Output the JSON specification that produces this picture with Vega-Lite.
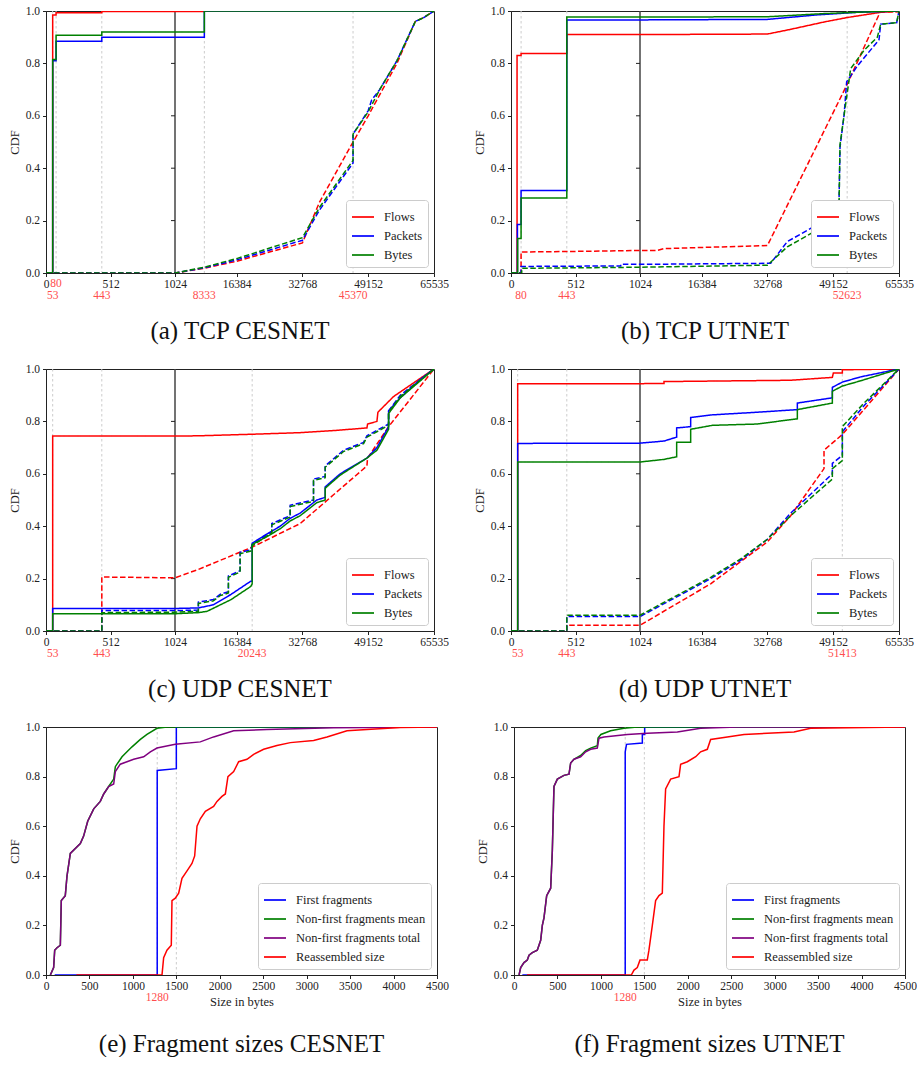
{
"$schema":"https://vega.github.io/schema/vega-lite/v6.json",
"background":"white",
"padding":{"left":7,"top":4,"right":0,"bottom":0},
"config":{
 "font":"Liberation Serif",
 "view":{"stroke":"#222","strokeWidth":1},
 "axis":{"grid":false,"domainColor":"#222","tickColor":"#222","labelColor":"#222","titleColor":"#222","labelFont":"Liberation Serif","titleFont":"Liberation Serif","labelFontSize":11.5,"titleFontSize":12.5,"titleFontWeight":"normal","tickSize":3.5,"domainWidth":1,"tickWidth":1},
 "axisX":{"labelPadding":2,"titlePadding":3},
 "axisY":{"labelPadding":3,"titlePadding":4},
 "legend":{"orient":"bottom-right","offset":6,"padding":5,"strokeColor":"#cccccc","fillColor":"#ffffff","cornerRadius":3,"symbolType":"stroke","symbolSize":484,"symbolStrokeWidth":1.7,"labelFont":"Liberation Serif","labelFontSize":12.5,"labelColor":"#222","labelOffset":9,"rowPadding":-4},
 "title":{"font":"Liberation Serif","fontSize":25,"fontWeight":"normal","color":"#111","orient":"bottom","anchor":"middle"}
},
"datasets":{
"A":[
{"m":"Flows","t":"s","x":0,"y":0},{"m":"Flows","t":"s","x":53,"y":0},{"m":"Flows","t":"s","x":53,"y":0.985},{"m":"Flows","t":"s","x":80,"y":0.985},{"m":"Flows","t":"s","x":80,"y":0.993},{"m":"Flows","t":"s","x":443,"y":0.993},{"m":"Flows","t":"s","x":443,"y":0.998},{"m":"Flows","t":"s","x":8333,"y":0.998},{"m":"Flows","t":"s","x":8333,"y":1},{"m":"Flows","t":"s","x":65535,"y":1},
{"m":"Flows","t":"d","x":0,"y":0},{"m":"Flows","t":"d","x":1024,"y":0},{"m":"Flows","t":"d","x":8333,"y":0.018},{"m":"Flows","t":"d","x":16384,"y":0.045},{"m":"Flows","t":"d","x":32768,"y":0.115},{"m":"Flows","t":"d","x":37000,"y":0.27},{"m":"Flows","t":"d","x":45370,"y":0.5},{"m":"Flows","t":"d","x":49152,"y":0.6},{"m":"Flows","t":"d","x":52000,"y":0.68},{"m":"Flows","t":"d","x":56300,"y":0.8},{"m":"Flows","t":"d","x":60879,"y":0.96},{"m":"Flows","t":"d","x":63000,"y":0.975},{"m":"Flows","t":"d","x":65535,"y":1},
{"m":"Packets","t":"s","x":0,"y":0},{"m":"Packets","t":"s","x":53,"y":0},{"m":"Packets","t":"s","x":53,"y":0.81},{"m":"Packets","t":"s","x":80,"y":0.81},{"m":"Packets","t":"s","x":80,"y":0.885},{"m":"Packets","t":"s","x":443,"y":0.885},{"m":"Packets","t":"s","x":443,"y":0.9},{"m":"Packets","t":"s","x":8333,"y":0.9},{"m":"Packets","t":"s","x":8333,"y":1},{"m":"Packets","t":"s","x":65535,"y":1},
{"m":"Packets","t":"d","x":0,"y":0},{"m":"Packets","t":"d","x":1024,"y":0},{"m":"Packets","t":"d","x":8333,"y":0.02},{"m":"Packets","t":"d","x":16384,"y":0.05},{"m":"Packets","t":"d","x":32768,"y":0.125},{"m":"Packets","t":"d","x":37000,"y":0.24},{"m":"Packets","t":"d","x":45370,"y":0.42},{"m":"Packets","t":"d","x":45370,"y":0.53},{"m":"Packets","t":"d","x":49152,"y":0.62},{"m":"Packets","t":"d","x":50000,"y":0.66},{"m":"Packets","t":"d","x":52000,"y":0.7},{"m":"Packets","t":"d","x":56300,"y":0.81},{"m":"Packets","t":"d","x":60879,"y":0.96},{"m":"Packets","t":"d","x":63000,"y":0.975},{"m":"Packets","t":"d","x":65535,"y":1},
{"m":"Bytes","t":"s","x":0,"y":0},{"m":"Bytes","t":"s","x":53,"y":0},{"m":"Bytes","t":"s","x":53,"y":0.815},{"m":"Bytes","t":"s","x":80,"y":0.815},{"m":"Bytes","t":"s","x":80,"y":0.907},{"m":"Bytes","t":"s","x":443,"y":0.907},{"m":"Bytes","t":"s","x":443,"y":0.92},{"m":"Bytes","t":"s","x":8333,"y":0.92},{"m":"Bytes","t":"s","x":8333,"y":1},{"m":"Bytes","t":"s","x":65535,"y":1},
{"m":"Bytes","t":"d","x":0,"y":0},{"m":"Bytes","t":"d","x":1024,"y":0},{"m":"Bytes","t":"d","x":8333,"y":0.022},{"m":"Bytes","t":"d","x":16384,"y":0.055},{"m":"Bytes","t":"d","x":32768,"y":0.135},{"m":"Bytes","t":"d","x":37000,"y":0.25},{"m":"Bytes","t":"d","x":45370,"y":0.43},{"m":"Bytes","t":"d","x":45370,"y":0.53},{"m":"Bytes","t":"d","x":49152,"y":0.615},{"m":"Bytes","t":"d","x":52000,"y":0.7},{"m":"Bytes","t":"d","x":56300,"y":0.81},{"m":"Bytes","t":"d","x":60879,"y":0.96},{"m":"Bytes","t":"d","x":63000,"y":0.975},{"m":"Bytes","t":"d","x":65535,"y":1}
],
"B":[
{"m":"Flows","t":"s","x":0,"y":0},{"m":"Flows","t":"s","x":48,"y":0},{"m":"Flows","t":"s","x":48,"y":0.83},{"m":"Flows","t":"s","x":80,"y":0.83},{"m":"Flows","t":"s","x":80,"y":0.838},{"m":"Flows","t":"s","x":443,"y":0.838},{"m":"Flows","t":"s","x":443,"y":0.91},{"m":"Flows","t":"s","x":1024,"y":0.91},{"m":"Flows","t":"s","x":32768,"y":0.912},{"m":"Flows","t":"s","x":38553,"y":0.93},{"m":"Flows","t":"s","x":46855,"y":0.958},{"m":"Flows","t":"s","x":52623,"y":0.975},{"m":"Flows","t":"s","x":60970,"y":0.995},{"m":"Flows","t":"s","x":65535,"y":1},
{"m":"Flows","t":"d","x":0,"y":0},{"m":"Flows","t":"d","x":80,"y":0},{"m":"Flows","t":"d","x":80,"y":0.08},{"m":"Flows","t":"d","x":443,"y":0.082},{"m":"Flows","t":"d","x":1024,"y":0.086},{"m":"Flows","t":"d","x":5342,"y":0.086},{"m":"Flows","t":"d","x":7002,"y":0.093},{"m":"Flows","t":"d","x":32768,"y":0.105},{"m":"Flows","t":"d","x":52623,"y":0.72},{"m":"Flows","t":"d","x":60806,"y":0.995},{"m":"Flows","t":"d","x":65535,"y":0.997},
{"m":"Packets","t":"s","x":0,"y":0},{"m":"Packets","t":"s","x":51,"y":0},{"m":"Packets","t":"s","x":51,"y":0.185},{"m":"Packets","t":"s","x":80,"y":0.185},{"m":"Packets","t":"s","x":80,"y":0.315},{"m":"Packets","t":"s","x":443,"y":0.315},{"m":"Packets","t":"s","x":443,"y":0.966},{"m":"Packets","t":"s","x":1024,"y":0.966},{"m":"Packets","t":"s","x":32768,"y":0.968},{"m":"Packets","t":"s","x":45000,"y":0.985},{"m":"Packets","t":"s","x":55160,"y":0.995},{"m":"Packets","t":"s","x":65535,"y":1},
{"m":"Packets","t":"d","x":0,"y":0},{"m":"Packets","t":"d","x":80,"y":0},{"m":"Packets","t":"d","x":80,"y":0.025},{"m":"Packets","t":"d","x":871,"y":0.027},{"m":"Packets","t":"d","x":871,"y":0.033},{"m":"Packets","t":"d","x":1024,"y":0.033},{"m":"Packets","t":"d","x":33573,"y":0.037},{"m":"Packets","t":"d","x":37724,"y":0.12},{"m":"Packets","t":"d","x":43535,"y":0.17},{"m":"Packets","t":"d","x":49347,"y":0.22},{"m":"Packets","t":"d","x":50593,"y":0.27},{"m":"Packets","t":"d","x":50842,"y":0.48},{"m":"Packets","t":"d","x":51838,"y":0.6},{"m":"Packets","t":"d","x":52503,"y":0.73},{"m":"Packets","t":"d","x":55160,"y":0.79},{"m":"Packets","t":"d","x":60556,"y":0.89},{"m":"Packets","t":"d","x":60972,"y":0.95},{"m":"Packets","t":"d","x":64957,"y":0.955},{"m":"Packets","t":"d","x":65535,"y":1},
{"m":"Bytes","t":"s","x":0,"y":0},{"m":"Bytes","t":"s","x":53,"y":0},{"m":"Bytes","t":"s","x":53,"y":0.132},{"m":"Bytes","t":"s","x":80,"y":0.132},{"m":"Bytes","t":"s","x":80,"y":0.286},{"m":"Bytes","t":"s","x":443,"y":0.286},{"m":"Bytes","t":"s","x":443,"y":0.977},{"m":"Bytes","t":"s","x":1024,"y":0.977},{"m":"Bytes","t":"s","x":32768,"y":0.978},{"m":"Bytes","t":"s","x":46855,"y":0.99},{"m":"Bytes","t":"s","x":60000,"y":0.998},{"m":"Bytes","t":"s","x":65535,"y":1},
{"m":"Bytes","t":"d","x":0,"y":0},{"m":"Bytes","t":"d","x":85,"y":0},{"m":"Bytes","t":"d","x":85,"y":0.018},{"m":"Bytes","t":"d","x":1024,"y":0.022},{"m":"Bytes","t":"d","x":32768,"y":0.03},{"m":"Bytes","t":"d","x":37724,"y":0.1},{"m":"Bytes","t":"d","x":43535,"y":0.15},{"m":"Bytes","t":"d","x":49347,"y":0.2},{"m":"Bytes","t":"d","x":50593,"y":0.25},{"m":"Bytes","t":"d","x":50842,"y":0.49},{"m":"Bytes","t":"d","x":51838,"y":0.6},{"m":"Bytes","t":"d","x":53499,"y":0.78},{"m":"Bytes","t":"d","x":56820,"y":0.85},{"m":"Bytes","t":"d","x":60141,"y":0.9},{"m":"Bytes","t":"d","x":60972,"y":0.95},{"m":"Bytes","t":"d","x":64957,"y":0.955},{"m":"Bytes","t":"d","x":65535,"y":1}
],
"C":[
{"m":"Flows","t":"s","x":0,"y":0},{"m":"Flows","t":"s","x":53,"y":0},{"m":"Flows","t":"s","x":53,"y":0.744},{"m":"Flows","t":"s","x":1024,"y":0.744},{"m":"Flows","t":"s","x":6843,"y":0.745},{"m":"Flows","t":"s","x":20243,"y":0.751},{"m":"Flows","t":"s","x":32198,"y":0.757},{"m":"Flows","t":"s","x":40511,"y":0.765},{"m":"Flows","t":"s","x":48824,"y":0.775},{"m":"Flows","t":"s","x":48990,"y":0.79},{"m":"Flows","t":"s","x":51318,"y":0.8},{"m":"Flows","t":"s","x":51567,"y":0.835},{"m":"Flows","t":"s","x":55474,"y":0.895},{"m":"Flows","t":"s","x":65535,"y":1},
{"m":"Flows","t":"d","x":0,"y":0},{"m":"Flows","t":"d","x":443,"y":0},{"m":"Flows","t":"d","x":443,"y":0.206},{"m":"Flows","t":"d","x":1024,"y":0.203},{"m":"Flows","t":"d","x":6843,"y":0.235},{"m":"Flows","t":"d","x":20243,"y":0.32},{"m":"Flows","t":"d","x":32198,"y":0.41},{"m":"Flows","t":"d","x":40511,"y":0.52},{"m":"Flows","t":"d","x":48824,"y":0.63},{"m":"Flows","t":"d","x":48990,"y":0.66},{"m":"Flows","t":"d","x":54226,"y":0.78},{"m":"Flows","t":"d","x":65535,"y":1},
{"m":"Packets","t":"s","x":0,"y":0},{"m":"Packets","t":"s","x":53,"y":0},{"m":"Packets","t":"s","x":53,"y":0.086},{"m":"Packets","t":"s","x":1024,"y":0.086},{"m":"Packets","t":"s","x":6843,"y":0.088},{"m":"Packets","t":"s","x":10584,"y":0.1},{"m":"Packets","t":"s","x":15000,"y":0.14},{"m":"Packets","t":"s","x":19895,"y":0.19},{"m":"Packets","t":"s","x":20243,"y":0.19},{"m":"Packets","t":"s","x":20243,"y":0.335},{"m":"Packets","t":"s","x":23885,"y":0.37},{"m":"Packets","t":"s","x":27210,"y":0.4},{"m":"Packets","t":"s","x":29704,"y":0.43},{"m":"Packets","t":"s","x":32198,"y":0.45},{"m":"Packets","t":"s","x":36354,"y":0.5},{"m":"Packets","t":"s","x":38432,"y":0.51},{"m":"Packets","t":"s","x":38432,"y":0.55},{"m":"Packets","t":"s","x":42173,"y":0.6},{"m":"Packets","t":"s","x":48824,"y":0.66},{"m":"Packets","t":"s","x":51318,"y":0.7},{"m":"Packets","t":"s","x":54226,"y":0.78},{"m":"Packets","t":"s","x":54226,"y":0.84},{"m":"Packets","t":"s","x":57136,"y":0.89},{"m":"Packets","t":"s","x":62124,"y":0.96},{"m":"Packets","t":"s","x":65535,"y":1},
{"m":"Packets","t":"d","x":0,"y":0},{"m":"Packets","t":"d","x":443,"y":0},{"m":"Packets","t":"d","x":443,"y":0.078},{"m":"Packets","t":"d","x":1024,"y":0.078},{"m":"Packets","t":"d","x":6843,"y":0.08},{"m":"Packets","t":"d","x":6843,"y":0.11},{"m":"Packets","t":"d","x":10584,"y":0.12},{"m":"Packets","t":"d","x":12247,"y":0.14},{"m":"Packets","t":"d","x":14325,"y":0.15},{"m":"Packets","t":"d","x":14325,"y":0.21},{"m":"Packets","t":"d","x":17235,"y":0.23},{"m":"Packets","t":"d","x":17235,"y":0.3},{"m":"Packets","t":"d","x":19895,"y":0.31},{"m":"Packets","t":"d","x":20243,"y":0.33},{"m":"Packets","t":"d","x":25132,"y":0.38},{"m":"Packets","t":"d","x":25132,"y":0.41},{"m":"Packets","t":"d","x":29704,"y":0.44},{"m":"Packets","t":"d","x":29704,"y":0.48},{"m":"Packets","t":"d","x":35523,"y":0.5},{"m":"Packets","t":"d","x":35523,"y":0.58},{"m":"Packets","t":"d","x":38432,"y":0.59},{"m":"Packets","t":"d","x":38432,"y":0.63},{"m":"Packets","t":"d","x":43004,"y":0.69},{"m":"Packets","t":"d","x":47992,"y":0.72},{"m":"Packets","t":"d","x":48824,"y":0.745},{"m":"Packets","t":"d","x":54226,"y":0.79},{"m":"Packets","t":"d","x":54226,"y":0.84},{"m":"Packets","t":"d","x":57136,"y":0.9},{"m":"Packets","t":"d","x":65535,"y":1},
{"m":"Bytes","t":"s","x":0,"y":0},{"m":"Bytes","t":"s","x":53,"y":0},{"m":"Bytes","t":"s","x":53,"y":0.066},{"m":"Bytes","t":"s","x":1024,"y":0.066},{"m":"Bytes","t":"s","x":6843,"y":0.07},{"m":"Bytes","t":"s","x":9000,"y":0.075},{"m":"Bytes","t":"s","x":15000,"y":0.12},{"m":"Bytes","t":"s","x":19895,"y":0.17},{"m":"Bytes","t":"s","x":20243,"y":0.18},{"m":"Bytes","t":"s","x":20243,"y":0.33},{"m":"Bytes","t":"s","x":23885,"y":0.36},{"m":"Bytes","t":"s","x":27210,"y":0.39},{"m":"Bytes","t":"s","x":29704,"y":0.42},{"m":"Bytes","t":"s","x":32198,"y":0.44},{"m":"Bytes","t":"s","x":36354,"y":0.49},{"m":"Bytes","t":"s","x":38432,"y":0.5},{"m":"Bytes","t":"s","x":38432,"y":0.545},{"m":"Bytes","t":"s","x":42173,"y":0.595},{"m":"Bytes","t":"s","x":48824,"y":0.66},{"m":"Bytes","t":"s","x":51318,"y":0.69},{"m":"Bytes","t":"s","x":54226,"y":0.77},{"m":"Bytes","t":"s","x":54226,"y":0.83},{"m":"Bytes","t":"s","x":57136,"y":0.89},{"m":"Bytes","t":"s","x":62124,"y":0.955},{"m":"Bytes","t":"s","x":65535,"y":1},
{"m":"Bytes","t":"d","x":0,"y":0},{"m":"Bytes","t":"d","x":443,"y":0},{"m":"Bytes","t":"d","x":443,"y":0.07},{"m":"Bytes","t":"d","x":1024,"y":0.072},{"m":"Bytes","t":"d","x":6843,"y":0.075},{"m":"Bytes","t":"d","x":6843,"y":0.105},{"m":"Bytes","t":"d","x":10584,"y":0.115},{"m":"Bytes","t":"d","x":12247,"y":0.135},{"m":"Bytes","t":"d","x":14325,"y":0.145},{"m":"Bytes","t":"d","x":14325,"y":0.205},{"m":"Bytes","t":"d","x":17235,"y":0.225},{"m":"Bytes","t":"d","x":17235,"y":0.295},{"m":"Bytes","t":"d","x":19895,"y":0.305},{"m":"Bytes","t":"d","x":20243,"y":0.325},{"m":"Bytes","t":"d","x":25132,"y":0.375},{"m":"Bytes","t":"d","x":25132,"y":0.405},{"m":"Bytes","t":"d","x":29704,"y":0.435},{"m":"Bytes","t":"d","x":29704,"y":0.475},{"m":"Bytes","t":"d","x":35523,"y":0.495},{"m":"Bytes","t":"d","x":35523,"y":0.575},{"m":"Bytes","t":"d","x":38432,"y":0.585},{"m":"Bytes","t":"d","x":38432,"y":0.625},{"m":"Bytes","t":"d","x":43004,"y":0.685},{"m":"Bytes","t":"d","x":47992,"y":0.715},{"m":"Bytes","t":"d","x":48824,"y":0.74},{"m":"Bytes","t":"d","x":54226,"y":0.785},{"m":"Bytes","t":"d","x":54226,"y":0.835},{"m":"Bytes","t":"d","x":57136,"y":0.895},{"m":"Bytes","t":"d","x":65535,"y":1}
],
"D":[
{"m":"Flows","t":"s","x":0,"y":0},{"m":"Flows","t":"s","x":53,"y":0},{"m":"Flows","t":"s","x":53,"y":0.944},{"m":"Flows","t":"s","x":1024,"y":0.944},{"m":"Flows","t":"s","x":7002,"y":0.945},{"m":"Flows","t":"s","x":7002,"y":0.952},{"m":"Flows","t":"s","x":38554,"y":0.957},{"m":"Flows","t":"s","x":48933,"y":0.968},{"m":"Flows","t":"s","x":49182,"y":0.985},{"m":"Flows","t":"s","x":51424,"y":0.985},{"m":"Flows","t":"s","x":51424,"y":0.997},{"m":"Flows","t":"s","x":65535,"y":1},
{"m":"Flows","t":"d","x":0,"y":0},{"m":"Flows","t":"d","x":443,"y":0},{"m":"Flows","t":"d","x":443,"y":0.022},{"m":"Flows","t":"d","x":1024,"y":0.022},{"m":"Flows","t":"d","x":18626,"y":0.18},{"m":"Flows","t":"d","x":32742,"y":0.34},{"m":"Flows","t":"d","x":38554,"y":0.44},{"m":"Flows","t":"d","x":46857,"y":0.62},{"m":"Flows","t":"d","x":46857,"y":0.69},{"m":"Flows","t":"d","x":51424,"y":0.75},{"m":"Flows","t":"d","x":65535,"y":1},
{"m":"Packets","t":"s","x":0,"y":0},{"m":"Packets","t":"s","x":53,"y":0},{"m":"Packets","t":"s","x":53,"y":0.716},{"m":"Packets","t":"s","x":1024,"y":0.717},{"m":"Packets","t":"s","x":7002,"y":0.725},{"m":"Packets","t":"s","x":10157,"y":0.74},{"m":"Packets","t":"s","x":10157,"y":0.775},{"m":"Packets","t":"s","x":13645,"y":0.78},{"m":"Packets","t":"s","x":13645,"y":0.815},{"m":"Packets","t":"s","x":19042,"y":0.825},{"m":"Packets","t":"s","x":30251,"y":0.835},{"m":"Packets","t":"s","x":40214,"y":0.845},{"m":"Packets","t":"s","x":40214,"y":0.87},{"m":"Packets","t":"s","x":48933,"y":0.89},{"m":"Packets","t":"s","x":48933,"y":0.93},{"m":"Packets","t":"s","x":51424,"y":0.95},{"m":"Packets","t":"s","x":55990,"y":0.97},{"m":"Packets","t":"s","x":65535,"y":1},
{"m":"Packets","t":"d","x":0,"y":0},{"m":"Packets","t":"d","x":443,"y":0},{"m":"Packets","t":"d","x":443,"y":0.055},{"m":"Packets","t":"d","x":1024,"y":0.055},{"m":"Packets","t":"d","x":18626,"y":0.2},{"m":"Packets","t":"d","x":26099,"y":0.27},{"m":"Packets","t":"d","x":32742,"y":0.35},{"m":"Packets","t":"d","x":38554,"y":0.45},{"m":"Packets","t":"d","x":48933,"y":0.6},{"m":"Packets","t":"d","x":48933,"y":0.64},{"m":"Packets","t":"d","x":51424,"y":0.67},{"m":"Packets","t":"d","x":51424,"y":0.76},{"m":"Packets","t":"d","x":56820,"y":0.86},{"m":"Packets","t":"d","x":65535,"y":1},
{"m":"Bytes","t":"s","x":0,"y":0},{"m":"Bytes","t":"s","x":53,"y":0},{"m":"Bytes","t":"s","x":53,"y":0.645},{"m":"Bytes","t":"s","x":1024,"y":0.645},{"m":"Bytes","t":"s","x":7002,"y":0.655},{"m":"Bytes","t":"s","x":10157,"y":0.665},{"m":"Bytes","t":"s","x":10157,"y":0.72},{"m":"Bytes","t":"s","x":13645,"y":0.72},{"m":"Bytes","t":"s","x":13645,"y":0.77},{"m":"Bytes","t":"s","x":19042,"y":0.785},{"m":"Bytes","t":"s","x":30251,"y":0.79},{"m":"Bytes","t":"s","x":40214,"y":0.81},{"m":"Bytes","t":"s","x":40214,"y":0.845},{"m":"Bytes","t":"s","x":48933,"y":0.87},{"m":"Bytes","t":"s","x":48933,"y":0.915},{"m":"Bytes","t":"s","x":51424,"y":0.935},{"m":"Bytes","t":"s","x":55990,"y":0.955},{"m":"Bytes","t":"s","x":65535,"y":1},
{"m":"Bytes","t":"d","x":0,"y":0},{"m":"Bytes","t":"d","x":443,"y":0},{"m":"Bytes","t":"d","x":443,"y":0.06},{"m":"Bytes","t":"d","x":1024,"y":0.06},{"m":"Bytes","t":"d","x":18626,"y":0.205},{"m":"Bytes","t":"d","x":26099,"y":0.275},{"m":"Bytes","t":"d","x":32742,"y":0.35},{"m":"Bytes","t":"d","x":38554,"y":0.44},{"m":"Bytes","t":"d","x":45196,"y":0.53},{"m":"Bytes","t":"d","x":48933,"y":0.58},{"m":"Bytes","t":"d","x":48933,"y":0.62},{"m":"Bytes","t":"d","x":51424,"y":0.65},{"m":"Bytes","t":"d","x":51424,"y":0.78},{"m":"Bytes","t":"d","x":56820,"y":0.87},{"m":"Bytes","t":"d","x":65535,"y":1}
],
"E":[
{"m":"First fragments","x":100,"y":0},{"m":"First fragments","x":1280,"y":0},{"m":"First fragments","x":1280,"y":0.825},{"m":"First fragments","x":1500,"y":0.832},{"m":"First fragments","x":1500,"y":1},{"m":"First fragments","x":4500,"y":1},
{"m":"Non-first fragments mean","x":50,"y":0},{"m":"Non-first fragments mean","x":88,"y":0.03},{"m":"Non-first fragments mean","x":100,"y":0.1},{"m":"Non-first fragments mean","x":127,"y":0.11},{"m":"Non-first fragments mean","x":165,"y":0.12},{"m":"Non-first fragments mean","x":176,"y":0.3},{"m":"Non-first fragments mean","x":222,"y":0.32},{"m":"Non-first fragments mean","x":242,"y":0.4},{"m":"Non-first fragments mean","x":280,"y":0.49},{"m":"Non-first fragments mean","x":395,"y":0.53},{"m":"Non-first fragments mean","x":433,"y":0.56},{"m":"Non-first fragments mean","x":480,"y":0.62},{"m":"Non-first fragments mean","x":549,"y":0.67},{"m":"Non-first fragments mean","x":625,"y":0.7},{"m":"Non-first fragments mean","x":664,"y":0.73},{"m":"Non-first fragments mean","x":721,"y":0.76},{"m":"Non-first fragments mean","x":779,"y":0.79},{"m":"Non-first fragments mean","x":798,"y":0.84},{"m":"Non-first fragments mean","x":817,"y":0.85},{"m":"Non-first fragments mean","x":875,"y":0.88},{"m":"Non-first fragments mean","x":932,"y":0.9},{"m":"Non-first fragments mean","x":990,"y":0.92},{"m":"Non-first fragments mean","x":1086,"y":0.95},{"m":"Non-first fragments mean","x":1162,"y":0.97},{"m":"Non-first fragments mean","x":1277,"y":0.995},{"m":"Non-first fragments mean","x":1392,"y":1},{"m":"Non-first fragments mean","x":4500,"y":1},
{"m":"Non-first fragments total","x":50,"y":0},{"m":"Non-first fragments total","x":88,"y":0.03},{"m":"Non-first fragments total","x":100,"y":0.1},{"m":"Non-first fragments total","x":127,"y":0.11},{"m":"Non-first fragments total","x":165,"y":0.12},{"m":"Non-first fragments total","x":176,"y":0.3},{"m":"Non-first fragments total","x":222,"y":0.32},{"m":"Non-first fragments total","x":242,"y":0.4},{"m":"Non-first fragments total","x":280,"y":0.49},{"m":"Non-first fragments total","x":395,"y":0.53},{"m":"Non-first fragments total","x":433,"y":0.56},{"m":"Non-first fragments total","x":480,"y":0.62},{"m":"Non-first fragments total","x":549,"y":0.67},{"m":"Non-first fragments total","x":625,"y":0.7},{"m":"Non-first fragments total","x":664,"y":0.73},{"m":"Non-first fragments total","x":721,"y":0.76},{"m":"Non-first fragments total","x":779,"y":0.77},{"m":"Non-first fragments total","x":798,"y":0.82},{"m":"Non-first fragments total","x":855,"y":0.85},{"m":"Non-first fragments total","x":932,"y":0.86},{"m":"Non-first fragments total","x":1009,"y":0.87},{"m":"Non-first fragments total","x":1124,"y":0.88},{"m":"Non-first fragments total","x":1201,"y":0.9},{"m":"Non-first fragments total","x":1277,"y":0.915},{"m":"Non-first fragments total","x":1488,"y":0.93},{"m":"Non-first fragments total","x":1776,"y":0.94},{"m":"Non-first fragments total","x":1929,"y":0.96},{"m":"Non-first fragments total","x":2160,"y":0.985},{"m":"Non-first fragments total","x":2543,"y":0.99},{"m":"Non-first fragments total","x":3310,"y":0.997},{"m":"Non-first fragments total","x":4500,"y":1},
{"m":"Reassembled size","x":350,"y":0},{"m":"Reassembled size","x":1335,"y":0},{"m":"Reassembled size","x":1354,"y":0.07},{"m":"Reassembled size","x":1392,"y":0.1},{"m":"Reassembled size","x":1442,"y":0.12},{"m":"Reassembled size","x":1450,"y":0.3},{"m":"Reassembled size","x":1488,"y":0.31},{"m":"Reassembled size","x":1527,"y":0.33},{"m":"Reassembled size","x":1565,"y":0.39},{"m":"Reassembled size","x":1623,"y":0.42},{"m":"Reassembled size","x":1680,"y":0.45},{"m":"Reassembled size","x":1711,"y":0.48},{"m":"Reassembled size","x":1738,"y":0.6},{"m":"Reassembled size","x":1776,"y":0.63},{"m":"Reassembled size","x":1834,"y":0.66},{"m":"Reassembled size","x":1929,"y":0.68},{"m":"Reassembled size","x":1968,"y":0.7},{"m":"Reassembled size","x":2025,"y":0.72},{"m":"Reassembled size","x":2064,"y":0.73},{"m":"Reassembled size","x":2094,"y":0.8},{"m":"Reassembled size","x":2160,"y":0.82},{"m":"Reassembled size","x":2217,"y":0.86},{"m":"Reassembled size","x":2313,"y":0.87},{"m":"Reassembled size","x":2390,"y":0.89},{"m":"Reassembled size","x":2505,"y":0.91},{"m":"Reassembled size","x":2658,"y":0.925},{"m":"Reassembled size","x":2812,"y":0.937},{"m":"Reassembled size","x":3080,"y":0.946},{"m":"Reassembled size","x":3234,"y":0.96},{"m":"Reassembled size","x":3464,"y":0.985},{"m":"Reassembled size","x":3694,"y":0.99},{"m":"Reassembled size","x":4078,"y":0.998},{"m":"Reassembled size","x":4500,"y":1}
],
"F":[
{"m":"First fragments","x":96,"y":0},{"m":"First fragments","x":1280,"y":0},{"m":"First fragments","x":1280,"y":0.9},{"m":"First fragments","x":1295,"y":0.93},{"m":"First fragments","x":1477,"y":0.935},{"m":"First fragments","x":1477,"y":0.97},{"m":"First fragments","x":1504,"y":0.97},{"m":"First fragments","x":1504,"y":1},{"m":"First fragments","x":4500,"y":1},
{"m":"Non-first fragments mean","x":58,"y":0},{"m":"Non-first fragments mean","x":77,"y":0.03},{"m":"Non-first fragments mean","x":115,"y":0.05},{"m":"Non-first fragments mean","x":153,"y":0.06},{"m":"Non-first fragments mean","x":173,"y":0.08},{"m":"Non-first fragments mean","x":211,"y":0.09},{"m":"Non-first fragments mean","x":268,"y":0.1},{"m":"Non-first fragments mean","x":307,"y":0.14},{"m":"Non-first fragments mean","x":326,"y":0.2},{"m":"Non-first fragments mean","x":345,"y":0.23},{"m":"Non-first fragments mean","x":376,"y":0.32},{"m":"Non-first fragments mean","x":422,"y":0.35},{"m":"Non-first fragments mean","x":441,"y":0.5},{"m":"Non-first fragments mean","x":460,"y":0.76},{"m":"Non-first fragments mean","x":499,"y":0.79},{"m":"Non-first fragments mean","x":575,"y":0.805},{"m":"Non-first fragments mean","x":633,"y":0.81},{"m":"Non-first fragments mean","x":652,"y":0.855},{"m":"Non-first fragments mean","x":690,"y":0.87},{"m":"Non-first fragments mean","x":767,"y":0.885},{"m":"Non-first fragments mean","x":825,"y":0.905},{"m":"Non-first fragments mean","x":882,"y":0.915},{"m":"Non-first fragments mean","x":959,"y":0.925},{"m":"Non-first fragments mean","x":967,"y":0.955},{"m":"Non-first fragments mean","x":1000,"y":0.97},{"m":"Non-first fragments mean","x":1112,"y":0.985},{"m":"Non-first fragments mean","x":1266,"y":0.995},{"m":"Non-first fragments mean","x":1419,"y":1},{"m":"Non-first fragments mean","x":4500,"y":1},
{"m":"Non-first fragments total","x":58,"y":0},{"m":"Non-first fragments total","x":77,"y":0.03},{"m":"Non-first fragments total","x":115,"y":0.05},{"m":"Non-first fragments total","x":153,"y":0.06},{"m":"Non-first fragments total","x":173,"y":0.08},{"m":"Non-first fragments total","x":211,"y":0.09},{"m":"Non-first fragments total","x":268,"y":0.1},{"m":"Non-first fragments total","x":307,"y":0.14},{"m":"Non-first fragments total","x":326,"y":0.2},{"m":"Non-first fragments total","x":345,"y":0.23},{"m":"Non-first fragments total","x":376,"y":0.32},{"m":"Non-first fragments total","x":422,"y":0.35},{"m":"Non-first fragments total","x":441,"y":0.5},{"m":"Non-first fragments total","x":460,"y":0.76},{"m":"Non-first fragments total","x":499,"y":0.79},{"m":"Non-first fragments total","x":575,"y":0.805},{"m":"Non-first fragments total","x":633,"y":0.81},{"m":"Non-first fragments total","x":652,"y":0.855},{"m":"Non-first fragments total","x":690,"y":0.87},{"m":"Non-first fragments total","x":767,"y":0.88},{"m":"Non-first fragments total","x":825,"y":0.9},{"m":"Non-first fragments total","x":882,"y":0.91},{"m":"Non-first fragments total","x":959,"y":0.915},{"m":"Non-first fragments total","x":978,"y":0.955},{"m":"Non-first fragments total","x":1036,"y":0.96},{"m":"Non-first fragments total","x":1304,"y":0.97},{"m":"Non-first fragments total","x":1534,"y":0.975},{"m":"Non-first fragments total","x":1880,"y":0.98},{"m":"Non-first fragments total","x":2148,"y":0.995},{"m":"Non-first fragments total","x":2570,"y":1},{"m":"Non-first fragments total","x":4500,"y":1},
{"m":"Reassembled size","x":150,"y":0},{"m":"Reassembled size","x":1350,"y":0},{"m":"Reassembled size","x":1381,"y":0.02},{"m":"Reassembled size","x":1419,"y":0.03},{"m":"Reassembled size","x":1450,"y":0.06},{"m":"Reassembled size","x":1534,"y":0.06},{"m":"Reassembled size","x":1553,"y":0.1},{"m":"Reassembled size","x":1592,"y":0.2},{"m":"Reassembled size","x":1630,"y":0.3},{"m":"Reassembled size","x":1669,"y":0.32},{"m":"Reassembled size","x":1707,"y":0.33},{"m":"Reassembled size","x":1726,"y":0.6},{"m":"Reassembled size","x":1745,"y":0.75},{"m":"Reassembled size","x":1803,"y":0.79},{"m":"Reassembled size","x":1899,"y":0.8},{"m":"Reassembled size","x":1918,"y":0.85},{"m":"Reassembled size","x":1995,"y":0.86},{"m":"Reassembled size","x":2091,"y":0.88},{"m":"Reassembled size","x":2148,"y":0.9},{"m":"Reassembled size","x":2225,"y":0.91},{"m":"Reassembled size","x":2263,"y":0.95},{"m":"Reassembled size","x":2455,"y":0.96},{"m":"Reassembled size","x":2647,"y":0.97},{"m":"Reassembled size","x":3222,"y":0.98},{"m":"Reassembled size","x":3414,"y":0.995},{"m":"Reassembled size","x":4500,"y":1}
]
},
"bounds":"flush",
"spacing":358,
"resolve":{"scale":{"color":"independent","strokeDash":"independent"},"legend":{"color":"independent"}},
"vconcat":[
{"hconcat":[
 {"width":388,"height":262,"title":{"text":"(a) TCP CESNET","offset":17},
  "encoding":{"x":{"field":"x","type":"quantitative","scale":{"domain":[0,1024,65535],"range":[0,129,388]},"axis":{"values":[0,512,1024,16384,32768,49152,65535],"format":"d","title":null,"labelFlush":false,"labelOverlap":false}}},
  "layer":[
   {"data":{"values":[{"x":53},{"x":80},{"x":443},{"x":8333},{"x":45370}]},"mark":{"type":"rule","color":"#cccccc","strokeDash":[2.5,2.5],"strokeWidth":1},"encoding":{}},
   {"data":{"values":[{"x":1024}]},"mark":{"type":"rule","color":"#444444","strokeWidth":1.5},"encoding":{}},
   {"data":{"values":[{"x":1024,"y":0.2},{"x":1024,"y":0.4},{"x":1024,"y":0.6},{"x":1024,"y":0.8}]},"mark":{"type":"rule","color":"#222222","strokeWidth":1,"x2Offset":-4},"encoding":{"x2":{"field":"x"},"y":{"field":"y","type":"quantitative","scale":{"domain":[0,1]},"axis":{"values":[0,0.2,0.4,0.6,0.8,1],"format":".1f","title":"CDF"}}}},
   {"data":{"name":"A"},"mark":{"type":"line","strokeWidth":1.5,"clip":true},"encoding":{"y":{"field":"y","type":"quantitative","scale":{"domain":[0,1]},"axis":{"values":[0,0.2,0.4,0.6,0.8,1],"format":".1f","title":"CDF"}},"color":{"field":"m","type":"nominal","scale":{"domain":["Flows","Packets","Bytes"],"range":["#ff0000","#0000ff","#008000"]},"legend":{"title":null}},"strokeDash":{"field":"t","type":"nominal","scale":{"domain":["s","d"],"range":[[1,0],[5.5,2.5]]},"legend":null},"order":{"value":null}}},
   {"data":{"values":[{"x":80,"l":"80"}]},"mark":{"type":"text","color":"#ff4d4d","baseline":"middle","dy":11,"fontSize":11.5},"encoding":{"text":{"field":"l"},"y":{"datum":0,"type":"quantitative","scale":{"domain":[0,1]},"axis":{"values":[0,0.2,0.4,0.6,0.8,1],"format":".1f","title":"CDF"}}}},
   {"data":{"values":[{"x":53,"l":"53"},{"x":443,"l":"443"},{"x":8333,"l":"8333"},{"x":45370,"l":"45370"}]},"mark":{"type":"text","color":"#ff4d4d","baseline":"middle","dy":23,"fontSize":11.5},"encoding":{"text":{"field":"l"},"y":{"datum":0,"type":"quantitative","scale":{"domain":[0,1]},"axis":{"values":[0,0.2,0.4,0.6,0.8,1],"format":".1f","title":"CDF"}}}}
  ]},
 {"width":388,"height":262,"title":{"text":"(b) TCP UTNET","offset":17},
  "encoding":{"x":{"field":"x","type":"quantitative","scale":{"domain":[0,1024,65535],"range":[0,129,388]},"axis":{"values":[0,512,1024,16384,32768,49152,65535],"format":"d","title":null,"labelFlush":false,"labelOverlap":false}}},
  "layer":[
   {"data":{"values":[{"x":80},{"x":443},{"x":52623}]},"mark":{"type":"rule","color":"#cccccc","strokeDash":[2.5,2.5],"strokeWidth":1},"encoding":{}},
   {"data":{"values":[{"x":1024}]},"mark":{"type":"rule","color":"#444444","strokeWidth":1.5},"encoding":{}},
   {"data":{"values":[{"x":1024,"y":0.2},{"x":1024,"y":0.4},{"x":1024,"y":0.6},{"x":1024,"y":0.8}]},"mark":{"type":"rule","color":"#222222","strokeWidth":1,"x2Offset":-4},"encoding":{"x2":{"field":"x"},"y":{"field":"y","type":"quantitative","scale":{"domain":[0,1]},"axis":{"values":[0,0.2,0.4,0.6,0.8,1],"format":".1f","title":"CDF"}}}},
   {"data":{"name":"B"},"mark":{"type":"line","strokeWidth":1.5,"clip":true},"encoding":{"y":{"field":"y","type":"quantitative","scale":{"domain":[0,1]},"axis":{"values":[0,0.2,0.4,0.6,0.8,1],"format":".1f","title":"CDF"}},"color":{"field":"m","type":"nominal","scale":{"domain":["Flows","Packets","Bytes"],"range":["#ff0000","#0000ff","#008000"]},"legend":{"title":null}},"strokeDash":{"field":"t","type":"nominal","scale":{"domain":["s","d"],"range":[[1,0],[5.5,2.5]]},"legend":null},"order":{"value":null}}},
   {"data":{"values":[{"x":80,"l":"80"},{"x":443,"l":"443"},{"x":52623,"l":"52623"}]},"mark":{"type":"text","color":"#ff4d4d","baseline":"middle","dy":23,"fontSize":11.5},"encoding":{"text":{"field":"l"},"y":{"datum":0,"type":"quantitative","scale":{"domain":[0,1]},"axis":{"values":[0,0.2,0.4,0.6,0.8,1],"format":".1f","title":"CDF"}}}}
  ]}
 ],"spacing":77,"bounds":"flush","resolve":{"scale":{"color":"independent","strokeDash":"independent"},"legend":{"color":"independent"}}},
{"hconcat":[
 {"width":388,"height":262,"title":{"text":"(c) UDP CESNET","offset":17},
  "encoding":{"x":{"field":"x","type":"quantitative","scale":{"domain":[0,1024,65535],"range":[0,129,388]},"axis":{"values":[0,512,1024,16384,32768,49152,65535],"format":"d","title":null,"labelFlush":false,"labelOverlap":false}}},
  "layer":[
   {"data":{"values":[{"x":53},{"x":443},{"x":20243}]},"mark":{"type":"rule","color":"#cccccc","strokeDash":[2.5,2.5],"strokeWidth":1},"encoding":{}},
   {"data":{"values":[{"x":1024}]},"mark":{"type":"rule","color":"#444444","strokeWidth":1.5},"encoding":{}},
   {"data":{"values":[{"x":1024,"y":0.2},{"x":1024,"y":0.4},{"x":1024,"y":0.6},{"x":1024,"y":0.8}]},"mark":{"type":"rule","color":"#222222","strokeWidth":1,"x2Offset":-4},"encoding":{"x2":{"field":"x"},"y":{"field":"y","type":"quantitative","scale":{"domain":[0,1]},"axis":{"values":[0,0.2,0.4,0.6,0.8,1],"format":".1f","title":"CDF"}}}},
   {"data":{"name":"C"},"mark":{"type":"line","strokeWidth":1.5,"clip":true},"encoding":{"y":{"field":"y","type":"quantitative","scale":{"domain":[0,1]},"axis":{"values":[0,0.2,0.4,0.6,0.8,1],"format":".1f","title":"CDF"}},"color":{"field":"m","type":"nominal","scale":{"domain":["Flows","Packets","Bytes"],"range":["#ff0000","#0000ff","#008000"]},"legend":{"title":null}},"strokeDash":{"field":"t","type":"nominal","scale":{"domain":["s","d"],"range":[[1,0],[5.5,2.5]]},"legend":null},"order":{"value":null}}},
   {"data":{"values":[{"x":53,"l":"53"},{"x":443,"l":"443"},{"x":20243,"l":"20243"}]},"mark":{"type":"text","color":"#ff4d4d","baseline":"middle","dy":23,"fontSize":11.5},"encoding":{"text":{"field":"l"},"y":{"datum":0,"type":"quantitative","scale":{"domain":[0,1]},"axis":{"values":[0,0.2,0.4,0.6,0.8,1],"format":".1f","title":"CDF"}}}}
  ]},
 {"width":388,"height":262,"title":{"text":"(d) UDP UTNET","offset":17},
  "encoding":{"x":{"field":"x","type":"quantitative","scale":{"domain":[0,1024,65535],"range":[0,129,388]},"axis":{"values":[0,512,1024,16384,32768,49152,65535],"format":"d","title":null,"labelFlush":false,"labelOverlap":false}}},
  "layer":[
   {"data":{"values":[{"x":53},{"x":443},{"x":51413}]},"mark":{"type":"rule","color":"#cccccc","strokeDash":[2.5,2.5],"strokeWidth":1},"encoding":{}},
   {"data":{"values":[{"x":1024}]},"mark":{"type":"rule","color":"#444444","strokeWidth":1.5},"encoding":{}},
   {"data":{"values":[{"x":1024,"y":0.2},{"x":1024,"y":0.4},{"x":1024,"y":0.6},{"x":1024,"y":0.8}]},"mark":{"type":"rule","color":"#222222","strokeWidth":1,"x2Offset":-4},"encoding":{"x2":{"field":"x"},"y":{"field":"y","type":"quantitative","scale":{"domain":[0,1]},"axis":{"values":[0,0.2,0.4,0.6,0.8,1],"format":".1f","title":"CDF"}}}},
   {"data":{"name":"D"},"mark":{"type":"line","strokeWidth":1.5,"clip":true},"encoding":{"y":{"field":"y","type":"quantitative","scale":{"domain":[0,1]},"axis":{"values":[0,0.2,0.4,0.6,0.8,1],"format":".1f","title":"CDF"}},"color":{"field":"m","type":"nominal","scale":{"domain":["Flows","Packets","Bytes"],"range":["#ff0000","#0000ff","#008000"]},"legend":{"title":null}},"strokeDash":{"field":"t","type":"nominal","scale":{"domain":["s","d"],"range":[[1,0],[5.5,2.5]]},"legend":null},"order":{"value":null}}},
   {"data":{"values":[{"x":53,"l":"53"},{"x":443,"l":"443"},{"x":51413,"l":"51413"}]},"mark":{"type":"text","color":"#ff4d4d","baseline":"middle","dy":23,"fontSize":11.5},"encoding":{"text":{"field":"l"},"y":{"datum":0,"type":"quantitative","scale":{"domain":[0,1]},"axis":{"values":[0,0.2,0.4,0.6,0.8,1],"format":".1f","title":"CDF"}}}}
  ]}
 ],"spacing":77,"bounds":"flush","resolve":{"scale":{"color":"independent","strokeDash":"independent"},"legend":{"color":"independent"}}},
{"hconcat":[
 {"width":391,"height":248,"title":{"text":"(e) Fragment sizes CESNET","offset":24},
  "encoding":{"x":{"field":"x","type":"quantitative","scale":{"domain":[0,4500]},"axis":{"values":[0,500,1000,1500,2000,2500,3000,3500,4000,4500],"format":"d","title":"Size in bytes","labelFlush":false,"labelOverlap":false}}},
  "layer":[
   {"data":{"values":[{"x":1280},{"x":1500}]},"mark":{"type":"rule","color":"#cccccc","strokeDash":[2.5,2.5],"strokeWidth":1},"encoding":{}},
   {"data":{"name":"E"},"mark":{"type":"line","strokeWidth":1.5,"clip":true},"encoding":{"y":{"field":"y","type":"quantitative","scale":{"domain":[0,1]},"axis":{"values":[0,0.2,0.4,0.6,0.8,1],"format":".1f","title":"CDF"}},"color":{"field":"m","type":"nominal","scale":{"domain":["First fragments","Non-first fragments mean","Non-first fragments total","Reassembled size"],"range":["#0000ff","#008000","#800080","#ff0000"]},"legend":{"title":null}},"order":{"value":null}}},
   {"data":{"values":[{"x":1280,"l":"1280"}]},"mark":{"type":"text","color":"#ff4d4d","baseline":"middle","dy":23,"fontSize":11.5},"encoding":{"text":{"field":"l"},"y":{"datum":0,"type":"quantitative","scale":{"domain":[0,1]},"axis":{"values":[0,0.2,0.4,0.6,0.8,1],"format":".1f","title":"CDF"}}}}
  ]},
 {"width":391,"height":248,"title":{"text":"(f) Fragment sizes UTNET","offset":24},
  "encoding":{"x":{"field":"x","type":"quantitative","scale":{"domain":[0,4500]},"axis":{"values":[0,500,1000,1500,2000,2500,3000,3500,4000,4500],"format":"d","title":"Size in bytes","labelFlush":false,"labelOverlap":false}}},
  "layer":[
   {"data":{"values":[{"x":1280},{"x":1500}]},"mark":{"type":"rule","color":"#cccccc","strokeDash":[2.5,2.5],"strokeWidth":1},"encoding":{}},
   {"data":{"name":"F"},"mark":{"type":"line","strokeWidth":1.5,"clip":true},"encoding":{"y":{"field":"y","type":"quantitative","scale":{"domain":[0,1]},"axis":{"values":[0,0.2,0.4,0.6,0.8,1],"format":".1f","title":"CDF"}},"color":{"field":"m","type":"nominal","scale":{"domain":["First fragments","Non-first fragments mean","Non-first fragments total","Reassembled size"],"range":["#0000ff","#008000","#800080","#ff0000"]},"legend":{"title":null}},"order":{"value":null}}},
   {"data":{"values":[{"x":1280,"l":"1280"}]},"mark":{"type":"text","color":"#ff4d4d","baseline":"middle","dy":23,"fontSize":11.5},"encoding":{"text":{"field":"l"},"y":{"datum":0,"type":"quantitative","scale":{"domain":[0,1]},"axis":{"values":[0,0.2,0.4,0.6,0.8,1],"format":".1f","title":"CDF"}}}}
  ]}
 ],"spacing":77,"bounds":"flush","resolve":{"scale":{"color":"independent"},"legend":{"color":"independent"}}}
]
}
